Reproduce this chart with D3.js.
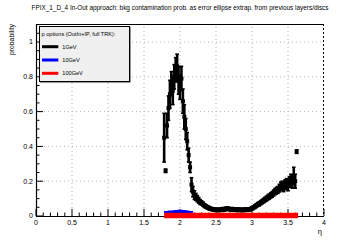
<!DOCTYPE html>
<html><head><meta charset="utf-8">
<script src="https://cdn.jsdelivr.net/npm/d3@7"></script>
<style>body{margin:0;background:#fff}svg{display:block;font-family:"Liberation Sans",Arial,sans-serif}</style>
</head><body><svg id="c" width="360" height="240"></svg>
<script>
const title = "FPIX_1_D_4 In-Out approach: bkg contamination prob. as error ellipse extrap. from previous layers/discs";
const xTicks = [0,0.5,1,1.5,2,2.5,3,3.5,4];
const yTicks = [0,0.2,0.4,0.6,0.8,1];
const legendHeader = "p options (OutIn+IP, full TRK):";
const seriesNames = ["1GeV","10GeV","100GeV"];
const seriesColors = ["#000000","#0000ff","#ff0000"];

const eta1 = [1.78,1.80,1.82,1.84,1.86,1.88,1.90,1.92,1.94,1.96,1.98,2.00,2.02,2.04,2.06,2.08,2.10,2.12,2.14,2.16,2.18,2.20,2.22,2.24,2.26,2.28,2.30,2.32,2.34,2.36,2.38,2.40,2.42,2.44,2.46,2.48,2.50,2.52,2.54,2.56,2.58,2.60,2.62,2.64,2.66,2.68,2.70,2.72,2.74,2.76,2.78,2.80,2.82,2.84,2.86,2.88,2.90,2.92,2.94,2.96,2.98,3.00,3.02,3.04,3.06,3.08,3.10,3.12,3.14,3.16,3.18,3.20,3.22,3.24,3.26,3.28,3.30,3.32,3.34,3.36,3.38,3.40,3.42,3.44,3.46,3.48,3.50,3.52,3.54,3.56,3.58,3.60,3.62];
const val1 = [0.45,0.26,0.52,0.62,0.70,0.76,0.72,0.80,0.84,0.86,0.78,0.74,0.79,0.66,0.57,0.50,0.43,0.35,0.28,0.18,0.14,0.12,0.11,0.10,0.09,0.08,0.075,0.068,0.06,0.055,0.05,0.046,0.042,0.04,0.038,0.036,0.035,0.036,0.034,0.036,0.038,0.040,0.037,0.042,0.044,0.040,0.038,0.040,0.036,0.038,0.036,0.035,0.037,0.035,0.034,0.036,0.035,0.037,0.036,0.038,0.040,0.044,0.048,0.054,0.060,0.066,0.070,0.076,0.082,0.088,0.094,0.100,0.106,0.112,0.118,0.124,0.132,0.140,0.146,0.150,0.160,0.170,0.175,0.165,0.180,0.185,0.175,0.195,0.205,0.190,0.230,0.200,0.37];
const err1 = [0.14,0.01,0.07,0.07,0.08,0.07,0.08,0.07,0.07,0.07,0.08,0.07,0.07,0.07,0.07,0.06,0.05,0.04,0.03,0.04,0.03,0.025,0.02,0.018,0.016,0.014,0.012,0.012,0.011,0.01,0.01,0.01,0.009,0.009,0.009,0.009,0.009,0.009,0.009,0.009,0.009,0.009,0.009,0.009,0.009,0.009,0.009,0.009,0.009,0.009,0.009,0.009,0.009,0.009,0.009,0.009,0.009,0.009,0.009,0.009,0.009,0.01,0.01,0.01,0.011,0.011,0.012,0.012,0.012,0.013,0.013,0.014,0.014,0.015,0.015,0.016,0.017,0.018,0.019,0.02,0.022,0.025,0.025,0.025,0.028,0.03,0.03,0.03,0.035,0.03,0.05,0.04,0.01];

const eta2 = [1.78,1.80,1.82,1.84,1.86,1.88,1.90,1.92,1.94,1.96,1.98,2.00,2.02,2.04,2.06,2.08,2.10,2.12,2.14,2.16];
const val2 = [0.018,0.020,0.020,0.021,0.022,0.022,0.023,0.024,0.025,0.026,0.027,0.027,0.026,0.025,0.024,0.022,0.021,0.020,0.019,0.018];

const eta3 = [1.78,1.82,1.86,1.90,1.94,1.98,2.02,2.06,2.10,2.14,2.18,2.22,2.26,2.30,2.34,2.38,2.42,2.46,2.50,2.54,2.58,2.62,2.66,2.70,2.74,2.78,2.82,2.86,2.90,2.94,2.98,3.02,3.06,3.10,3.14,3.18,3.22,3.26,3.30,3.34,3.38,3.42,3.46,3.50,3.54,3.58,3.62,3.64];
const val3 = [0.003,0.003,0.003,0.003,0.003,0.003,0.003,0.003,0.003,0.003,0.003,0.003,0.003,0.003,0.003,0.003,0.003,0.003,0.003,0.003,0.003,0.003,0.003,0.003,0.003,0.003,0.003,0.003,0.003,0.003,0.003,0.003,0.003,0.003,0.003,0.003,0.003,0.003,0.003,0.003,0.003,0.003,0.003,0.003,0.003,0.003,0.003,0.003];

const svg = d3.select("#c");
const L=36,R=324,T=24,B=216;
const x = d3.scaleLinear().domain([0,4]).range([L,R]);
const y = d3.scaleLinear().domain([0,1.1035]).range([B,T]);

// title
svg.append("text").attr("x",180).attr("y",10).attr("text-anchor","middle")
  .attr("font-size",6.4).text(title);

// grid
const g = svg.append("g");
xTicks.filter(v=>v>0&&v<4).forEach(v=>g.append("line").attr("x1",x(v)).attr("x2",x(v)).attr("y1",B).attr("y2",T)
  .attr("stroke","#b4b4b4").attr("stroke-width",1).attr("stroke-dasharray","1,3"));
yTicks.filter(v=>v>0).forEach(v=>g.append("line").attr("x1",L).attr("x2",R).attr("y1",y(v)).attr("y2",y(v))
  .attr("stroke","#b4b4b4").attr("stroke-width",1).attr("stroke-dasharray","1,3"));

// frame
svg.append("line").attr("x1",L).attr("x2",R).attr("y1",T+0.5).attr("y2",T+0.5).attr("stroke","#000");
svg.append("line").attr("x1",R-0.5).attr("x2",R-0.5).attr("y1",T).attr("y2",B).attr("stroke","#000").attr("stroke-dasharray","2,2");

// axes
const ax = svg.append("g");
ax.append("line").attr("x1",L).attr("x2",R).attr("y1",B+0.5).attr("y2",B+0.5).attr("stroke","#000").attr("stroke-width",1.2);
ax.append("line").attr("x1",L+0.5).attr("x2",L+0.5).attr("y1",T).attr("y2",B).attr("stroke","#000").attr("stroke-width",1.2);
d3.range(0,41).forEach(i=>{const v=i/10;const maj=i%5===0;
  ax.append("line").attr("x1",x(v)).attr("x2",x(v)).attr("y1",B).attr("y2",B-(maj?7:3.5)).attr("stroke","#000").attr("stroke-width",1);});
d3.range(0,23).forEach(i=>{const v=i*0.05;if(v>1.1)return;const maj=i%4===0;
  ax.append("line").attr("x1",L).attr("x2",L+(maj?7:3.5)).attr("y1",y(v)).attr("y2",y(v)).attr("stroke","#000").attr("stroke-width",1);});
xTicks.forEach(v=>ax.append("text").attr("x",x(v)).attr("y",B+9).attr("text-anchor","middle").attr("font-size",7).text(v));
yTicks.forEach(v=>ax.append("text").attr("x",L-3).attr("y",y(v)+2.3).attr("text-anchor","end").attr("font-size",7).text(v));
svg.append("text").attr("x",322).attr("y",234).attr("text-anchor","end").attr("font-size",7.5).text("η");
svg.append("text").attr("transform","translate(14,24) rotate(-90)").attr("text-anchor","end").attr("font-size",6.8).text("probability");

// data: 1GeV
const d1 = eta1.map((e,i)=>({e,v:val1[i],er:err1[i]}));
const s1 = svg.append("g");
d1.forEach(d=>{
  s1.append("line").attr("x1",x(d.e)).attr("x2",x(d.e)).attr("y1",y(d.v-d.er)).attr("y2",y(d.v+d.er))
    .attr("stroke",seriesColors[0]).attr("stroke-width",2.6);
  s1.append("line").attr("x1",x(d.e)-1.8).attr("x2",x(d.e)+1.8).attr("y1",y(d.v-d.er)).attr("y2",y(d.v-d.er)).attr("stroke","#000").attr("stroke-width",1.6);
  s1.append("line").attr("x1",x(d.e)-1.8).attr("x2",x(d.e)+1.8).attr("y1",y(d.v+d.er)).attr("y2",y(d.v+d.er)).attr("stroke","#000").attr("stroke-width",1.6);
  s1.append("rect").attr("x",x(d.e)-2).attr("y",y(d.v)-2).attr("width",4).attr("height",4).attr("fill","#000");
});
// 10GeV
svg.append("path").datum(eta2.map((e,i)=>[e,val2[i]]))
  .attr("d",d3.line().x(d=>x(d[0])).y(d=>y(d[1])).curve(d3.curveStepAfter))
  .attr("fill","none").attr("stroke",seriesColors[1]).attr("stroke-width",3.2);
// 100GeV
svg.append("path").datum(eta3.map((e,i)=>[e,val3[i]]))
  .attr("d",d3.line().x(d=>x(d[0])).y(d=>y(d[1])))
  .attr("fill","none").attr("stroke",seriesColors[2]).attr("stroke-width",5.4);

// legend
const lg = svg.append("g");
lg.append("rect").attr("x",40).attr("y",27).attr("width",90.5).attr("height",55.5).attr("fill","#333");
lg.append("rect").attr("x",39.5).attr("y",26.5).attr("width",90).attr("height",55).attr("fill","#f0f0f0").attr("stroke","#000").attr("stroke-width",1);
lg.append("text").attr("x",41.5).attr("y",36).attr("font-size",5.6).text(legendHeader);
seriesNames.forEach((n,i)=>{const yy=46.7+i*13.3;
  lg.append("line").attr("x1",42).attr("x2",58.3).attr("y1",yy).attr("y2",yy).attr("stroke",seriesColors[i]).attr("stroke-width",3);
  lg.append("text").attr("x",62.3).attr("y",yy+2).attr("font-size",5.6).text(n);});
</script></body></html>
